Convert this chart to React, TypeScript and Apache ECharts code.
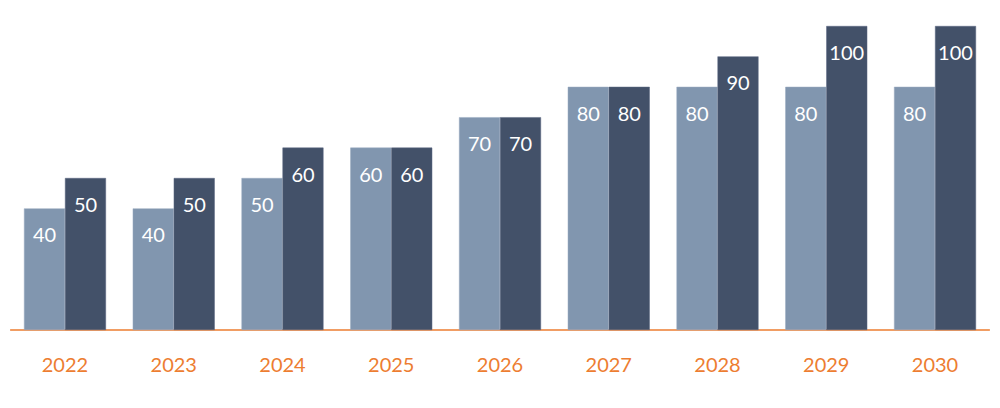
import React, { useEffect, useRef } from "react";
import * as echarts from "echarts";

const categories = ["2022", "2023", "2024", "2025", "2026", "2027", "2028", "2029", "2030"];
const seriesA = [40, 40, 50, 60, 70, 80, 80, 80, 80];
const seriesB = [50, 50, 60, 60, 70, 80, 90, 100, 100];

const FONT = "Lato, 'Open Sans', sans-serif";

export default function App() {
  const ref = useRef<HTMLDivElement>(null);
  useEffect(() => {
    document.body.style.margin = "0";
    const chart = echarts.init(ref.current!, undefined, { renderer: "svg" });
    const label = {
      show: true,
      position: "insideTop" as const,
      distance: 16,
      color: "#ffffff",
      fontSize: 20,
      fontFamily: FONT,
    };
    chart.setOption({
      animation: false,
      grid: { left: 10.6, right: 10.6, top: 26, bottom: 78 },
      xAxis: {
        type: "category",
        data: categories,
        axisLine: { lineStyle: { color: "#ED7D31", width: 1.5 } },
        axisTick: { show: false },
        axisLabel: { color: "#ED7D31", fontSize: 20, fontFamily: FONT, margin: 24 },
      },
      yAxis: {
        type: "value",
        min: 0,
        max: 100,
        show: false,
        splitLine: { show: false },
      },
      series: [
        {
          type: "bar",
          data: seriesA,
          barWidth: 41,
          barGap: "0%",
          itemStyle: { color: "#8196AF", borderColor: "#9aabc0", borderWidth: 0.5 },
          label,
        },
        {
          type: "bar",
          data: seriesB,
          barWidth: 41,
          barGap: "0%",
          itemStyle: { color: "#435169", borderColor: "#5a6780", borderWidth: 0.5 },
          label,
        },
      ],
    });
    return () => chart.dispose();
  }, []);
  return <div ref={ref} style={{ width: 1000, height: 408 }} />;
}
